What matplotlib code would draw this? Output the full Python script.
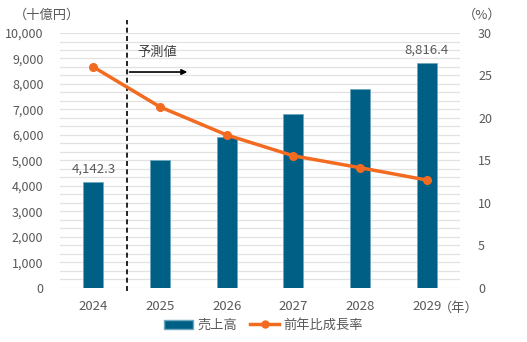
import numpy as np
import matplotlib
matplotlib.use("Agg")
import matplotlib.pyplot as plt
from matplotlib.patches import Patch
from matplotlib.lines import Line2D

plt.rcParams['font.family'] = ['Noto Sans CJK JP', 'DejaVu Sans']

years = ['2024', '2025', '2026', '2027', '2028', '2029']
sales = [4142.3, 5020, 5920, 6830, 7800, 8816.4]  # 十億円
growth = [26.0, 21.3, 18.0, 15.55, 14.15, 12.7]  # %
sales_labels = {0: '4,142.3', 5: '8,816.4'}

bar_color = '#005f85'
line_color = '#f26b21'
text_color = '#595959'
grid_color = '#e2e2e2'

fig = plt.figure(figsize=(5.27, 3.42), dpi=100)
ax = fig.add_axes([0.114, 0.158, 0.759, 0.7455])
ax2 = ax.twinx()

x = np.arange(len(years))

# 右軸の1%刻みに合わせたグリッド
for g in range(0, 31):
    ax.axhline(g * 10000 / 30, color=grid_color, lw=0.9, zorder=0)

ax.bar(x, sales, width=0.3, color=bar_color, edgecolor='#6fa8c0', linewidth=0.6, zorder=3)
for i, s in sales_labels.items():
    ax.text(x[i], sales[i] + 250, s, ha='center', va='bottom', fontsize=9.5, color=text_color)

ax2.plot(x, growth, color=line_color, lw=2.5, marker='o', ms=5.5, zorder=4)

ax.set_ylim(0, 10000)
ax2.set_ylim(0, 30)
ax.set_xlim(-0.5, 5.5)
ax.set_yticks(np.arange(0, 10001, 1000))
ax.set_yticklabels([f'{v:,}' for v in range(0, 10001, 1000)])
ax2.set_yticks(np.arange(0, 31, 5))
ax.set_xticks(x)
ax.set_xticklabels(years)
for a in (ax, ax2):
    for sp in a.spines.values():
        sp.set_visible(False)
    a.tick_params(length=0, colors=text_color, labelsize=9)
ax.tick_params(axis='x', pad=9, labelsize=9.5)
ax.tick_params(axis='y', pad=12)
ax2.tick_params(axis='y', pad=13)

# 予測値の区切り
ax.plot([0.5, 0.5], [-100, 10500], color='black', lw=1.2, ls=(0, (3, 2)), clip_on=False, zorder=5)
ax.annotate('', xy=(1.45, 8470), xytext=(0.5, 8470),
            arrowprops=dict(arrowstyle='-|>', color='black', lw=1.2, mutation_scale=8), zorder=5)
ax.text(0.66, 9250, '予測値', fontsize=9.5, color='#404040', va='center')

fig.text(0.027, 0.955, '（十億円）', fontsize=9.5, color=text_color, va='center')
fig.text(0.878, 0.955, '（%）', fontsize=9.5, color=text_color, va='center')
fig.text(0.832, 0.098, '（年）', fontsize=9.5, color=text_color, va='center')

handles = [Patch(facecolor=bar_color, edgecolor='#6fa8c0'),
           Line2D([], [], color=line_color, lw=2.5, marker='o', ms=5)]
fig.legend(handles, ['売上高', '前年比成長率'], loc='center', bbox_to_anchor=(0.5, 0.048),
           ncol=2, frameon=False, fontsize=9.5, labelcolor=text_color,
           handlelength=2.2, handletextpad=0.3, columnspacing=1.0)

fig.savefig('out.png', dpi=100)
